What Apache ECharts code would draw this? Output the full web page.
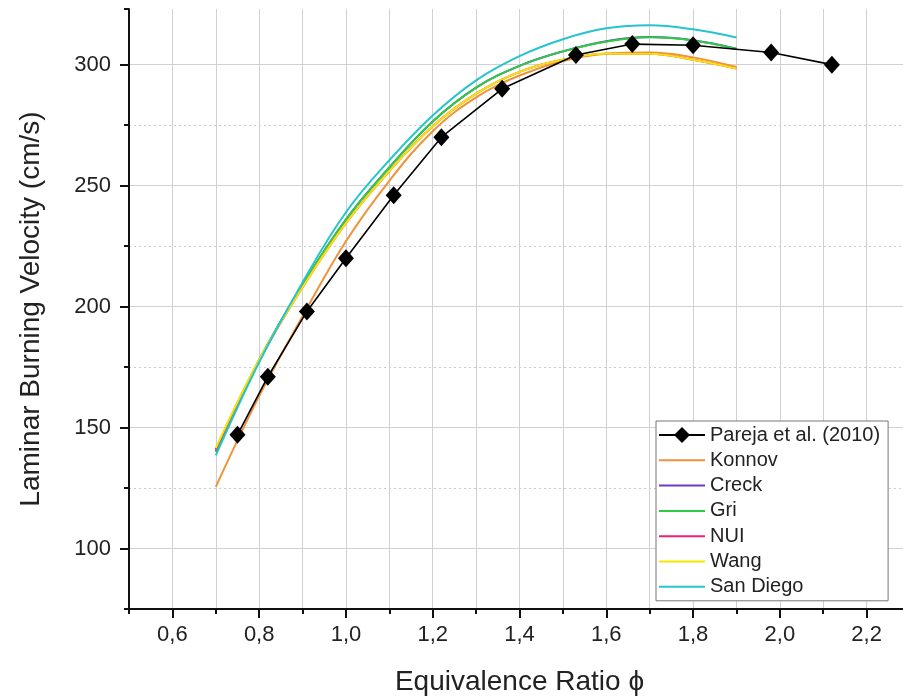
<!DOCTYPE html>
<html>
<head>
<meta charset="utf-8">
<script src="https://cdn.jsdelivr.net/npm/echarts@6/dist/echarts.min.js"></script>
<style>
html,body{margin:0;padding:0;background:#fff;}
#chart{width:903px;height:696px;}
</style>
</head>
<body>
<div id="chart"></div>
<script>
// Experimental data (Pareja et al. 2010)
var phiExp = [0.75, 0.82, 0.91, 1.00, 1.11, 1.22, 1.36, 1.53, 1.66, 1.80, 1.98, 2.12];
var suExp  = [147, 171, 198, 220, 246, 270, 290, 304, 308.5, 308, 305, 300];

// Model predictions
var phiModel = [0.7, 0.8, 0.9, 1.0, 1.1, 1.2, 1.3, 1.4, 1.5, 1.6, 1.7, 1.8, 1.9];
var konnov   = [125.5, 163, 196, 227, 252, 272.5, 286.5, 295.5, 301.5, 304.5, 305, 303, 299];
var creck    = [140, 177.5, 209, 236, 257.5, 276.5, 290.5, 299.5, 305.5, 309.7, 311.4, 310.1, 306.6];
var gri      = [140.5, 178, 209, 236, 257.5, 276.5, 290.5, 299.5, 305.5, 309.5, 311.3, 310, 306.5];
var nui      = [141, 177.8, 208, 234.5, 256, 274.5, 288, 297, 302, 304.5, 304.5, 302, 298.4];
var wang     = [141.5, 178, 208, 234.5, 256, 274.5, 288, 297, 302, 304.5, 304.5, 302, 298.4];
var sanDiego = [138.5, 177, 210, 239, 260.5, 279, 293.5, 303.5, 310.5, 315, 316.3, 314.6, 311.2];

var names  = ['Pareja et al. (2010)', 'Konnov', 'Creck', 'Gri', 'NUI', 'Wang', 'San Diego'];
var colors = ['#000000', '#f0923a', '#6a3dc8', '#2ecc40', '#f0207a', '#f5e600', '#26c4cc'];

function pairs(xs, ys) { return xs.map(function (x, i) { return [x, ys[i]]; }); }

var FONT = '"Liberation Sans", Arial, sans-serif';
var modelSets = [konnov, creck, gri, nui, wang, sanDiego];

var series = [{
  name: names[0], type: 'line', data: pairs(phiExp, suExp),
  symbol: 'diamond', symbolSize: [16, 18], z: 10,
  itemStyle: { color: '#000' }, lineStyle: { color: '#000', width: 1.6 }
}];
modelSets.forEach(function (ys, i) {
  series.push({
    name: names[i + 1], type: 'line', data: pairs(phiModel, ys),
    smooth: 0.4, showSymbol: false, symbol: 'none',
    lineStyle: { color: colors[i + 1], width: 2 }, itemStyle: { color: colors[i + 1] }
  });
});

var legendData = names.map(function (n, i) {
  return i === 0 ? { name: n } : { name: n, itemStyle: { opacity: 0 } };
});

var chart = echarts.init(document.getElementById('chart'), null, { renderer: 'canvas' });
chart.setOption({
  animation: false,
  backgroundColor: '#fff',
  textStyle: { fontFamily: FONT },
  grid: { left: 129, top: 9, width: 781, height: 600, outerBoundsMode: 'none', containLabel: false },
  xAxis: [{
    type: 'value', min: 0.5, max: 2.3, interval: 0.1,
    axisLine: { show: true, lineStyle: { color: '#111', width: 2 } },
    axisTick: { show: true, length: 5, lineStyle: { color: '#111', width: 2 } },
    axisLabel: { show: false },
    splitLine: { show: true, lineStyle: { color: '#d0d0d0', width: 1 } },
    name: 'Equivalence Ratio \u03D5', nameLocation: 'middle', nameGap: 59,
    nameTextStyle: { fontSize: 28, color: '#222', fontFamily: FONT }
  }, {
    type: 'value', min: 0.5, max: 2.3, minInterval: 0.2, maxInterval: 0.2, position: 'bottom',
    axisLine: { show: false },
    axisTick: { show: true, length: 9, lineStyle: { color: '#111', width: 2 } },
    axisLabel: {
      show: true, fontSize: 22, color: '#222', margin: 15, fontFamily: FONT,
      showMinLabel: false, showMaxLabel: false,
      formatter: function (v) {
        var k = Math.round(v * 10);
        if (k % 2 !== 0 || k < 6 || k > 22) return '';
        return (k / 10).toFixed(1).replace('.', ',');
      }
    },
    splitLine: { show: false }
  }],
  yAxis: [{
    type: 'value', min: 75, max: 323, interval: 25,
    axisLine: { show: true, lineStyle: { color: '#111', width: 2 } },
    axisTick: { show: true, length: 5, lineStyle: { color: '#111', width: 2 } },
    axisLabel: { show: false },
    splitLine: { show: true, showMinLine: false, showMaxLine: false,
      lineStyle: { color: '#cccccc', width: 1, type: [2, 3] } },
    name: 'Laminar Burning Velocity (cm/s)', nameLocation: 'middle', nameGap: 84,
    nameTextStyle: { fontSize: 28, color: '#222', fontFamily: FONT }
  }, {
    type: 'value', min: 75, max: 323, minInterval: 50, maxInterval: 50, position: 'left',
    axisLine: { show: false },
    axisTick: { show: true, length: 9, lineStyle: { color: '#111', width: 2 } },
    axisLabel: {
      show: true, fontSize: 22, color: '#222', margin: 18, fontFamily: FONT,
      showMinLabel: false, showMaxLabel: false,
      formatter: function (v) { return (v % 50 === 0) ? String(v) : ''; }
    },
    splitLine: { show: true, showMinLine: false, showMaxLine: false,
      lineStyle: { color: '#d0d0d0', width: 1 } }
  }],
  legend: {
    orient: 'vertical', left: 656, top: 421,
    data: legendData,
    itemWidth: 46, itemHeight: 20, itemGap: 5.3,
    padding: [4, 8, 4, 2],
    backgroundColor: '#fff', borderColor: '#777', borderWidth: 1, borderRadius: 0,
    textStyle: { fontSize: 20, color: '#222', fontFamily: FONT, lineHeight: 20 }
  },
  series: series
});
</script>
</body>
</html>
